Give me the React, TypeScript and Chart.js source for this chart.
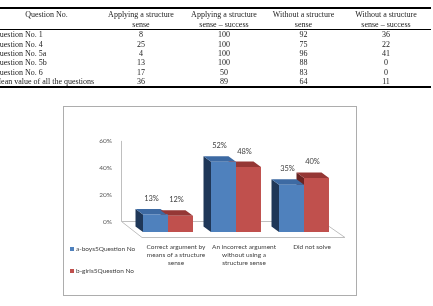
import { useEffect, useRef } from "react";
import { Chart, registerables } from "chart.js";

Chart.register(...registerables);

// ---- table data ----
const tableHeaders = [
  ["Question No."],
  ["Applying a structure", "sense"],
  ["Applying a structure", "sense \u2013 success"],
  ["Without a structure", "sense"],
  ["Without a structure", "sense \u2013 success"],
];
const questionLabels = [
  "Question No. 1",
  "Question No. 4",
  "Question No. 5a",
  "Question No. 5b",
  "Question No. 6",
  "Mean value of all the questions",
];
const applyingSense = [8, 25, 4, 13, 17, 36];
const applyingSuccess = [100, 100, 100, 100, 50, 89];
const withoutSense = [92, 75, 96, 88, 83, 64];
const withoutSuccess = [36, 22, 41, 0, 0, 11];

// ---- chart data ----
const categories = [
  ["Correct argument by", "means of a structure", "sense"],
  ["An incorrect argument", "without using a", "structure sense"],
  ["Did not solve"],
];
const seriesNames = ["a-boys5Question No", "b-girls5Question No"];
const boysValues = [13, 52, 35];
const girlsValues = [12, 48, 40];
const yMax = 60;
const yStep = 20;

// face colours per series: front, top, left side
const faces = [
  { front: "#4F81BD", top: "#3D6AA3", side: "#1F3758" },
  { front: "#C0504D", top: "#953735", side: "#6A2423" },
];

// projection of the bars' front faces relative to the back wall
const SHIFT_X = -8;
const SHIFT_Y = 10;
// bar depth vector (towards the back)
const DX = -7.5;
const DY = -5.5;

const colWidths = [107, 82, 84, 75, 90];

const bars3d = {
  id: "bars3d",
  beforeDatasetsDraw(chart: any) {
    const { ctx, chartArea: a } = chart;
    // back-wall axis line and floor outline
    ctx.save();
    ctx.strokeStyle = "#BFBFBF";
    ctx.lineWidth = 1;
    const bx = Math.round(a.left - 21) + 0.5;
    const by = Math.round(a.bottom) - 0.5;
    const fy = Math.round(a.bottom + 15) + 0.5;
    ctx.beginPath();
    ctx.moveTo(bx, a.top);
    ctx.lineTo(bx, by);
    ctx.stroke();
    ctx.beginPath();
    ctx.moveTo(bx, by);
    ctx.lineTo(a.right - 24, by);
    ctx.lineTo(a.right - 1, fy);
    ctx.lineTo(a.left, fy);
    ctx.closePath();
    ctx.stroke();
    ctx.restore();

    const metas = chart.data.datasets.map((_: any, i: number) => chart.getDatasetMeta(i));
    ctx.save();
    ctx.translate(SHIFT_X, SHIFT_Y);
    for (const pass of ["side", "top"]) {
      metas.forEach((meta: any, di: number) => {
        meta.data.forEach((bar: any) => {
          const { x, y, base, width } = bar.getProps(["x", "y", "base", "width"], true);
          const l = x - width / 2;
          const r = x + width / 2;
          ctx.fillStyle = (faces[di] as any)[pass];
          ctx.beginPath();
          if (pass === "side") {
            ctx.moveTo(l, y);
            ctx.lineTo(l + DX, y + DY);
            ctx.lineTo(l + DX, base + DY);
            ctx.lineTo(l, base);
          } else {
            ctx.moveTo(l, y);
            ctx.lineTo(r, y);
            ctx.lineTo(r + DX, y + DY);
            ctx.lineTo(l + DX, y + DY);
          }
          ctx.closePath();
          ctx.fill();
        });
      });
    }
    ctx.restore();
    // front faces are drawn by the bar controller in the shifted space
    ctx.save();
    ctx.translate(SHIFT_X, SHIFT_Y);
  },
  afterDatasetsDraw(chart: any) {
    const { ctx } = chart;
    ctx.restore();
    // value labels
    ctx.save();
    ctx.font = "7.5px Lato";
    ctx.fillStyle = "#404040";
    ctx.textAlign = "center";
    ctx.textBaseline = "middle";
    chart.data.datasets.forEach((ds: any, di: number) => {
      chart.getDatasetMeta(di).data.forEach((bar: any, i: number) => {
        const { x, y } = bar.getProps(["x", "y"], true);
        ctx.fillText(`${ds.data[i]}%`, x + SHIFT_X - 4, y + SHIFT_Y - 16);
      });
    });
    ctx.restore();
  },
  afterDraw(chart: any) {
    // legend in the lower left corner
    const { ctx } = chart;
    ctx.save();
    ctx.font = "6.5px Lato";
    ctx.textBaseline = "middle";
    chart.data.datasets.forEach((ds: any, di: number) => {
      const y = 142 + di * 22;
      ctx.fillStyle = faces[di].front;
      ctx.fillRect(6, y - 2, 4, 4);
      ctx.fillStyle = "#404040";
      ctx.fillText(ds.label, 12, y);
    });
    ctx.restore();
  },
};

function BarChart() {
  const ref = useRef<HTMLCanvasElement>(null);
  useEffect(() => {
    if (!ref.current) return;
    const chart = new Chart(ref.current, {
      type: "bar",
      data: {
        labels: categories,
        datasets: [
          {
            label: seriesNames[0],
            data: boysValues,
            backgroundColor: faces[0].front,
            clip: false as any,
          },
          {
            label: seriesNames[1],
            data: girlsValues,
            backgroundColor: faces[1].front,
            clip: false as any,
          },
        ],
      },
      options: {
        responsive: false,
        animation: false,
        events: [],
        layout: { padding: { top: 31, right: 10, left: 0, bottom: 0 } },
        datasets: {
          bar: { barPercentage: 1, categoryPercentage: 0.735 },
        },
        plugins: {
          legend: { display: false },
          tooltip: { enabled: false },
        },
        scales: {
          x: {
            grid: { display: false, drawTicks: false },
            border: { display: false },
            ticks: {
              maxRotation: 0,
              autoSkip: false,
              padding: 21,
              color: "#404040",
              font: { family: "Lato", size: 6.5, lineHeight: 1.2 },
            },
            afterFit: (s: any) => {
              s.height = 73;
            },
          },
          y: {
            min: 0,
            max: yMax,
            grid: { display: false, drawTicks: false },
            border: { display: false },
            ticks: {
              stepSize: yStep,
              padding: 30,
              color: "#595959",
              font: { family: "Lato", size: 6.5 },
              callback: (v: any) => `${v}%`,
            },
            afterFit: (s: any) => {
              s.width = 78;
            },
          },
        },
      },
      plugins: [bars3d],
    });
    return () => chart.destroy();
  }, []);
  return <canvas ref={ref} width={292} height={188} style={{ display: "block" }} />;
}

export default function App() {
  const cell: React.CSSProperties = {
    padding: 0,
    textAlign: "center",
    verticalAlign: "middle",
    height: 9.27,
    whiteSpace: "nowrap",
  };
  return (
    <div
      style={{
        position: "fixed",
        left: 0,
        top: 0,
        width: 433,
        height: 306,
        overflow: "hidden",
        background: "#fff",
      }}
    >
      <table
        style={{
          position: "absolute",
          left: -7,
          top: 7,
          width: 438,
          tableLayout: "fixed",
          borderCollapse: "collapse",
          borderTop: "2px solid #000",
          borderBottom: "2px solid #000",
          fontFamily: "'Liberation Serif', serif",
          fontSize: 8,
          lineHeight: "9.3px",
          color: "#222",
          willChange: "transform",
          transform: "translateZ(0)",
        }}
      >
        <colgroup>
          {colWidths.map((w, i) => (
            <col key={i} style={{ width: w }} />
          ))}
        </colgroup>
        <thead>
          <tr>
            {tableHeaders.map((h, i) => (
              <th
                key={i}
                style={{
                  ...cell,
                  fontWeight: "normal",
                  verticalAlign: "top",
                  paddingTop: 1.4,
                  paddingBottom: 0.4,
                  borderBottom: "1px solid #000",
                }}
              >
                {h.map((line, j) => (
                  <div key={j}>{line}</div>
                ))}
              </th>
            ))}
          </tr>
        </thead>
        <tbody>
          {questionLabels.map((q, i) => (
            <tr key={i}>
              <td style={{ ...cell, textAlign: "left", paddingLeft: 1 }}>{q}</td>
              <td style={cell}>{applyingSense[i]}</td>
              <td style={cell}>{applyingSuccess[i]}</td>
              <td style={cell}>{withoutSense[i]}</td>
              <td style={cell}>{withoutSuccess[i]}</td>
            </tr>
          ))}
        </tbody>
      </table>
      <div
        style={{
          position: "absolute",
          left: 63,
          top: 106,
          width: 292,
          height: 188,
          border: "1px solid #ADADAD",
        }}
      >
        <BarChart />
      </div>
    </div>
  );
}
